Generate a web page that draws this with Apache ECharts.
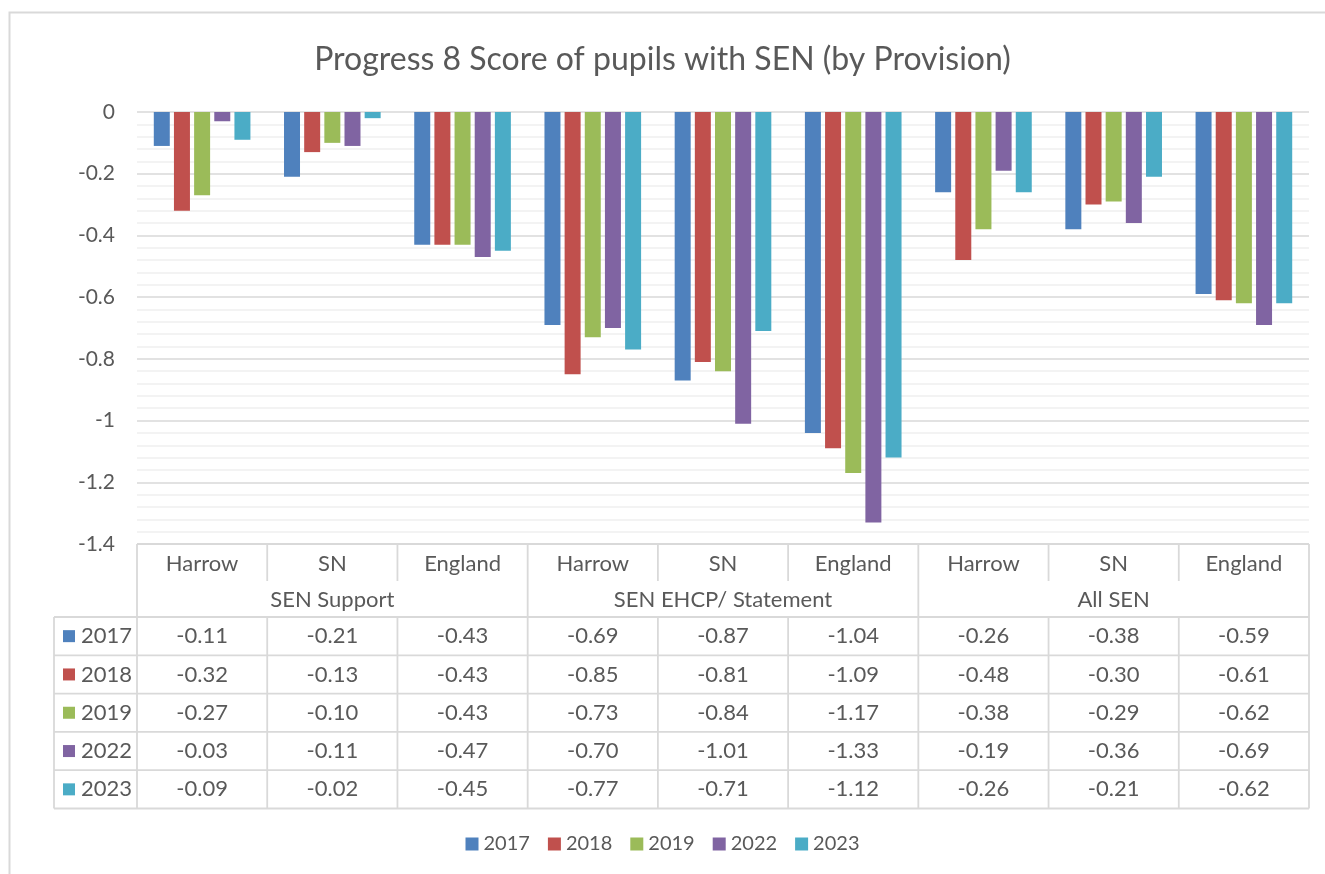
<!DOCTYPE html>
<html><head><meta charset="utf-8">
<script src="https://cdn.jsdelivr.net/npm/echarts@6/dist/echarts.min.js"></script>
<style>html,body{margin:0;padding:0;background:#fff}#c{width:1325px;height:874px}</style>
</head><body><div id="c"></div>
<script>
const categories = ['Harrow','SN','England','Harrow','SN','England','Harrow','SN','England'];
const groups = ['SEN Support','SEN EHCP/ Statement','All SEN'];
const seriesNames = ['2017','2018','2019','2022','2023'];
const v2017 = [-0.11,-0.21,-0.43,-0.69,-0.87,-1.04,-0.26,-0.38,-0.59];
const v2018 = [-0.32,-0.13,-0.43,-0.85,-0.81,-1.09,-0.48,-0.30,-0.61];
const v2019 = [-0.27,-0.10,-0.43,-0.73,-0.84,-1.17,-0.38,-0.29,-0.62];
const v2022 = [-0.03,-0.11,-0.47,-0.70,-1.01,-1.33,-0.19,-0.36,-0.69];
const v2023 = [-0.09,-0.02,-0.45,-0.77,-0.71,-1.12,-0.26,-0.21,-0.62];
const seriesValues = [v2017, v2018, v2019, v2022, v2023];
const colors = ['#4F81BD','#C0504D','#9BBB59','#8064A2','#4BACC6'];

const FONT = 'Lato, "Liberation Sans", sans-serif';
const TXT = '#595959';
const LINE = '#d9d9d9';

const chart = echarts.init(document.getElementById('c'), null, {renderer:'canvas'});
const gridLeft = 137, gridRight = 16, gridTop = 112, gridBottom = 330;

chart.setOption({
  animation: false,
  backgroundColor: '#fff',
  color: colors,
  title: {
    text: 'Progress 8 Score of pupils with SEN (by Provision)',
    left: 'center', top: 39,
    textStyle: {fontFamily: FONT, fontSize: 32, fontWeight: 'normal', color: TXT}
  },
  legend: {
    data: seriesNames, bottom: 20, left: 'center',
    icon: 'rect', itemWidth: 13, itemHeight: 13, itemGap: 18, padding: 0,
    textStyle: {fontFamily: FONT, fontSize: 20, color: TXT}
  },
  grid: {left: gridLeft, right: gridRight, top: gridTop, bottom: gridBottom, containLabel: false},
  xAxis: {
    type: 'category', data: categories,
    axisLine: {show: false}, axisTick: {show: false}, axisLabel: {show: false}
  },
  yAxis: {
    type: 'value', min: -1.4, max: 0, interval: 0.2,
    axisLine: {show: false}, axisTick: {show: false},
    axisLabel: {fontFamily: FONT, fontSize: 21, color: TXT, margin: 22,
      formatter: v => (Math.round(v*10)/10).toString()},
    splitLine: {lineStyle: {color: LINE, width: 1.5}},
    minorTick: {show: false, splitNumber: 5},
    minorSplitLine: {show: true, lineStyle: {color: '#f0f0f0', width: 1.5}}
  },
  series: seriesNames.map((n, i) => ({
    name: n, type: 'bar', data: seriesValues[i],
    barWidth: 16, barGap: '26%',
    itemStyle: {color: colors[i]}
  }))
});

// Data table below the plot
const x0 = gridLeft, x1 = 1325 - gridRight;
const cw = (x1 - x0) / categories.length;
const yTop = 874 - gridBottom;
const yHead = yTop + 37;
const yGroup = yTop + 73;
const rowH = 38.3;
const keyLeft = 54;
const els = [];
const ln = (xa, ya, xb, yb) => els.push({type:'line', shape:{x1:xa,y1:ya,x2:xb,y2:yb},
  style:{stroke:LINE, lineWidth:1.8}, silent:true});
const tx = (t, x, y, align) => els.push({type:'text', x:x, y:y,
  style:{text:t, fill:TXT, font:'22px ' + FONT, align:align||'center', verticalAlign:'middle',
    textAlign:align||'center', textVerticalAlign:'middle'}, silent:true});

const yEnd = yGroup + rowH * seriesNames.length;
ln(x0, yTop, x1, yTop);
ln(x0, yTop, x0, yEnd);
ln(x1, yTop, x1, yEnd);
for (let c = 1; c < categories.length; c++) {
  const xx = x0 + c * cw;
  if (c % 3 === 0) ln(xx, yTop, xx, yEnd);
  else { ln(xx, yTop, xx, yHead); ln(xx, yGroup, xx, yEnd); }
}
categories.forEach((c, i) => {
  const cx = chart.convertToPixel({xAxisIndex:0}, i);
  tx(c, cx, (yTop + yHead) / 2 + 1);
});
groups.forEach((g, i) => tx(g, x0 + (i * 3 + 1.5) * cw, (yHead + yGroup) / 2 + 1));
for (let r = 0; r <= seriesNames.length; r++) ln(keyLeft, yGroup + r * rowH, x1, yGroup + r * rowH);
ln(keyLeft, yGroup, keyLeft, yEnd);
seriesNames.forEach((n, r) => {
  const cy = yGroup + (r + 0.5) * rowH;
  els.push({type:'rect', shape:{x:63, y:cy - 6, width:12, height:12}, style:{fill:colors[r]}, silent:true});
  tx(n, 81, cy, 'left');
  seriesValues[r].forEach((v, i) => {
    const cx = chart.convertToPixel({xAxisIndex:0}, i);
    tx(v.toFixed(2), cx, cy);
  });
});
els.push({type:'rect', shape:{x:9.5, y:12.5, width:1400, height:1000},
  style:{fill:'none', stroke:LINE, lineWidth:2}, silent:true, z:-10});

chart.setOption({graphic: {elements: els}});
</script>
</body></html>
